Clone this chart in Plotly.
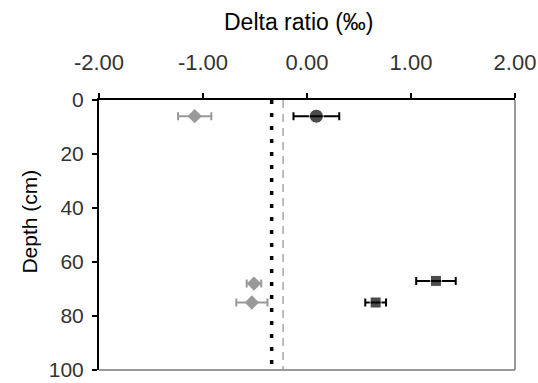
import plotly.graph_objects as go

# Data
gray_x = [-1.08, -0.51, -0.53]
gray_err = [0.16, 0.07, 0.15]
gray_depth = [6, 68, 75]

black_x = [0.09, 1.24, 0.66]
black_err = [0.22, 0.19, 0.10]
black_depth = [6, 67, 75]

ref_dotted_x = -0.34
ref_dashed_x = -0.23

x_ticks = [-2, -1, 0, 1, 2]
x_tick_labels = ["-2.00", "-1.00", "0.00", "1.00", "2.00"]
y_ticks = [0, 20, 40, 60, 80, 100]

FONT = "Liberation Sans, Arial, sans-serif"

fig = go.Figure()

fig.add_trace(go.Scatter(
    x=[ref_dotted_x, ref_dotted_x], y=[0, 100], mode="lines",
    line=dict(color="black", width=3.5, dash="4px,9px"), hoverinfo="skip"))
fig.add_trace(go.Scatter(
    x=[ref_dashed_x, ref_dashed_x], y=[0, 100], mode="lines",
    line=dict(color="#a6a6a6", width=1.5, dash="8px,6px"), hoverinfo="skip"))

fig.add_trace(go.Scatter(
    x=gray_x, y=gray_depth, mode="markers",
    marker=dict(symbol="diamond", size=11, color="#999999"),
    error_x=dict(type="data", array=gray_err, color="#999999", thickness=2, width=4)))

fig.add_trace(go.Scatter(
    x=black_x, y=black_depth, mode="markers",
    marker=dict(symbol=["circle", "square", "square"], size=[14, 11, 11], color="black"),
    error_x=dict(type="data", array=black_err, color="black", thickness=2, width=4)))

fig.update_layout(
    width=538, height=383,
    margin=dict(l=99, r=23, t=100, b=13),
    plot_bgcolor="white", paper_bgcolor="white",
    showlegend=False,
    font=dict(family=FONT, color="black"),
    xaxis=dict(
        side="top", range=[-2, 2], tickvals=x_ticks, ticktext=x_tick_labels,
        showgrid=False, zeroline=False, automargin=False,
        showline=True, linecolor="black", linewidth=2,
        ticks="outside", ticklen=5, tickwidth=1.5, tickcolor="black",
        ticklabelstandoff=14, ticklabeloverflow="allow",
        tickfont=dict(size=22, color="#333333", family=FONT),
    ),
    yaxis=dict(
        range=[100, 0], tickvals=y_ticks,
        showgrid=False, zeroline=False, automargin=False,
        showline=True, linecolor="black", linewidth=2,
        ticks="outside", ticklen=5, tickwidth=1.5, tickcolor="black",
        ticklabelstandoff=4, ticklabeloverflow="allow",
        tickfont=dict(size=21, color="#333333", family=FONT),
    ),
    shapes=[
        dict(type="line", xref="paper", yref="paper", x0=1, x1=1, y0=0, y1=1,
             line=dict(color="#999999", width=2)),
        dict(type="line", xref="paper", yref="paper", x0=0, x1=1, y0=0, y1=0,
             line=dict(color="#999999", width=2)),
    ],
    annotations=[
        dict(text="Delta ratio (‰)", xref="paper", yref="paper", x=0.48, y=1.29,
             xanchor="center", yanchor="middle", showarrow=False,
             font=dict(size=23, color="black", family=FONT)),
        dict(text="Depth (cm)", xref="paper", yref="paper", x=-0.168, y=0.55,
             xanchor="center", yanchor="middle", showarrow=False, textangle=-90,
             font=dict(size=21, color="black", family=FONT)),
    ],
)

fig.write_html("out.html", config={"displayModeBar": False},
               post_script="document.body.style.margin='0';document.body.style.overflow='hidden';")
